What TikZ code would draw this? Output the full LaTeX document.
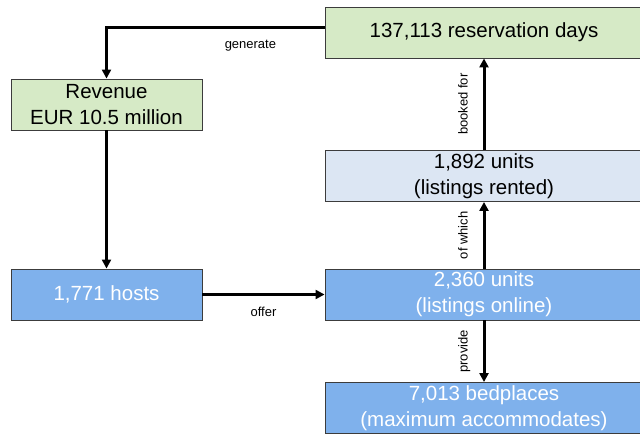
\documentclass[tikz,border=0pt]{standalone}
\usepackage{fontspec}
\setmainfont{Liberation Sans}
\usetikzlibrary{arrows.meta}
\definecolor{BoxGreen}{RGB}{214,234,198}
\definecolor{BoxPale}{RGB}{220,230,243}
\definecolor{BoxBlue}{RGB}{127,177,236}
\definecolor{BoxLine}{RGB}{60,60,60}

\begin{document}
\begin{tikzpicture}[x=1pt,y=1pt,
    box/.style={draw=BoxLine,line width=.9pt,inner sep=0pt,minimum height=51,
      align=center,font=\fontsize{20.5}{26}\selectfont},
    leftbox/.style={box,minimum width=191},
    rightbox/.style={box,minimum width=318},
    flow/.style={line width=3pt,-{Triangle[length=9pt,width=9pt]}},
    lbl/.style={inner sep=0pt,text height=9.5,text depth=2.8,font=\fontsize{13}{15}\selectfont}]
      \clip (0,0) rectangle (640,437);
      \node[rightbox,fill=BoxGreen] (days) at (484,404.5) {137,113 reservation days};
      \node[rightbox,fill=BoxPale] (rented) at (484,261) {1,892 units\\(listings rented)};
      \node[rightbox,fill=BoxBlue,text=white] (online) at (484,142.5) {2,360 units\\(listings online)};
      \node[rightbox,fill=BoxBlue,text=white] (beds) at (484,29) {7,013 bedplaces\\(maximum accommodates)};
      \node[leftbox,fill=BoxGreen] (revenue) at (106.5,332.5) {Revenue\\EUR 10.5 million};
      \node[leftbox,fill=BoxBlue,text=white] (hosts) at (106.5,142.5) {1,771 hosts};
      \draw[flow] ([yshift=4.5]days.west) -| node[lbl,pos=.17,below=9.5pt]{generate} (revenue.north);
      \draw[flow] (revenue.south) -- (hosts.north);
      \draw[flow] (hosts.east) -- node[lbl,below=10.5pt]{offer} (online.west);
      \draw[flow] (online.north) -- node[lbl,sloped,above=12pt]{of which} (rented.south);
      \draw[flow] (rented.north) -- node[lbl,sloped,above=12pt]{booked for} (days.south);
      \draw[flow,{Triangle[length=9pt,width=9pt]}-] (beds.north) -- node[lbl,sloped,above=12pt]{provide} (online.south);
    \end{tikzpicture}
\end{document}
